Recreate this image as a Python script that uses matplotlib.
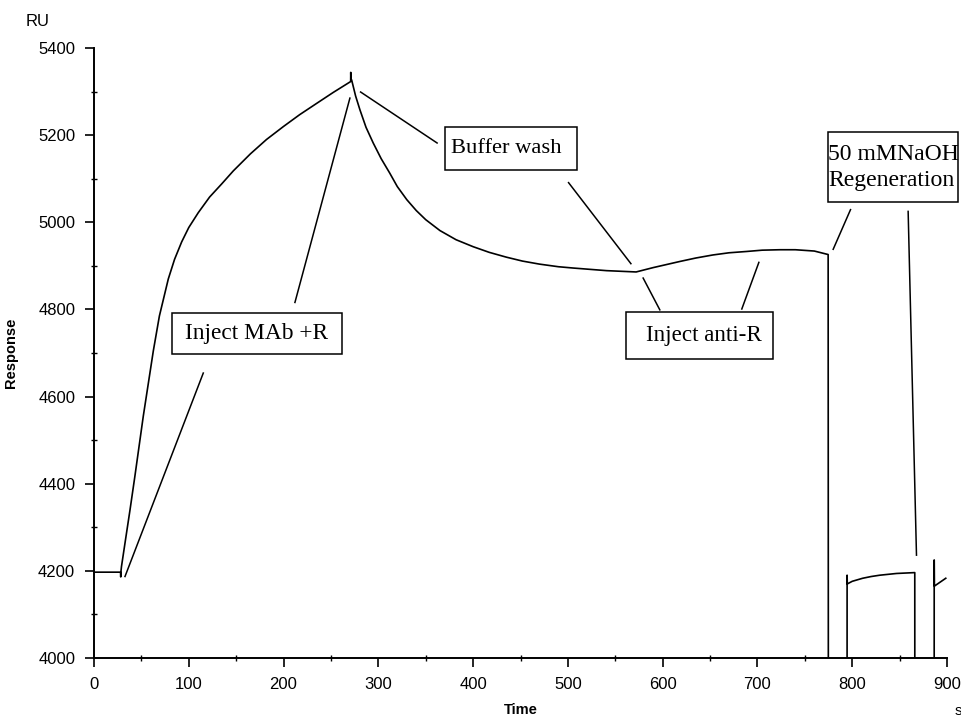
import matplotlib
matplotlib.use("Agg")
import matplotlib.pyplot as plt
from matplotlib.patches import Rectangle
from matplotlib.ticker import MultipleLocator

# Sensorgram: time (s) and response (RU); values below 4000 are off-scale (regeneration)
time_s = [0, 28, 28.2, 28.5, 29, 33, 38, 43, 52, 62.6, 69, 78.4, 85, 92.5, 100,
          110, 122, 134.7, 147, 165, 182, 200, 217, 235, 252.4, 270.8, 270.9,
          271.1, 271.8, 276, 280.6, 287, 294.6, 303, 312, 320, 330, 340, 350,
          365, 382, 400, 417, 435, 452, 470, 490, 505.6, 540.8, 572, 590, 618,
          635, 653, 670, 688.5, 705, 723.6, 740, 760, 774.6, 775, 794.5, 794.6,
          794.8, 800, 811, 820, 829, 846.7, 866, 866.2, 886.4, 886.5, 886.7,
          898.7]
response_ru = [4197, 4197, 4186, 4200, 4210, 4268, 4340, 4415, 4555, 4705, 4785,
               4870, 4915, 4955, 4988, 5022, 5058, 5088, 5118, 5157, 5190, 5220,
               5247, 5273, 5298, 5323, 5344, 5327, 5327, 5290, 5258, 5218, 5182,
               5146, 5113, 5082, 5052, 5027, 5006, 4981, 4960, 4944, 4931, 4920,
               4911, 4904, 4898, 4895, 4889, 4886, 4896, 4910, 4918, 4925, 4930,
               4933, 4936, 4937, 4937, 4934, 4926, 3000, 3000, 4190, 4170, 4176,
               4183, 4187, 4190, 4194, 4196, 3000, 3000, 4225, 4165, 4183]

x_ticks = [0, 100, 200, 300, 400, 500, 600, 700, 800, 900]
y_ticks = [4000, 4200, 4400, 4600, 4800, 5000, 5200, 5400]

# Annotation boxes: label, (x0, x1, y0, y1) in data units, text x, alignment, size
annotations = [
    ("Inject MAb +R", (82.3, 261.6, 4698, 4792), 172.0, "center", 16.8),
    ("Buffer wash", (370.3, 509.8, 5119, 5218), 435.0, "center", 16.2),
    ("Inject anti-R", (560.9, 716.0, 4687, 4793), 643.0, "center", 16.6),
    ("50 mMNaOH\nRegeneration", (774.0, 912.0, 5046, 5207), 774.8, "left", 17.1),
]

# Leader lines from the boxes to the curve, in data units
leaders = [
    ((32.7, 115.3), (4187, 4654)),
    ((212.0, 270.0), (4816, 5285)),
    ((281.3, 362.0), (5299, 5182)),
    ((500.7, 566.5), (5091, 4905)),
    ((579.4, 597.0), (4872, 4799)),
    ((701.5, 683.5), (4908, 4801)),
    ((798.2, 779.9), (5029, 4938)),
    ((859.0, 867.8), (5025, 4236)),
]

plt.rcParams["font.family"] = ["Liberation Sans", "DejaVu Sans"]

fig = plt.figure(figsize=(9.61, 7.17), dpi=100)
ax = fig.add_axes([94 / 961, 1 - 658 / 717, (947 - 94) / 961, (658 - 48) / 717])

ax.plot(time_s, response_ru, color="black", lw=1.2)

for xs, ys in leaders:
    ax.plot(xs, ys, color="black", lw=1.1, clip_on=False)

for label, (x0, x1, y0, y1), tx, ha, size in annotations:
    ax.add_patch(Rectangle((x0, y0), x1 - x0, y1 - y0, fill=False,
                           edgecolor="black", lw=1.1, clip_on=False))
    ax.text(tx, (y0 + y1) / 2, label, ha=ha, va="center",
            family=["Liberation Serif", "DejaVu Serif"], fontsize=size,
            linespacing=1.3, clip_on=False)

ax.set_xlim(0, 900)
ax.set_ylim(4000, 5400)
ax.set_xticks(x_ticks)
ax.set_yticks(y_ticks)
ax.xaxis.set_minor_locator(MultipleLocator(50))
ax.yaxis.set_minor_locator(MultipleLocator(100))

for side in ("top", "right"):
    ax.spines[side].set_visible(False)
for side in ("left", "bottom"):
    ax.spines[side].set_linewidth(1.4)

ax.tick_params(axis="both", which="major", direction="out", length=6.5,
               width=1.2, labelsize=12, pad=7)
ax.tick_params(axis="both", which="minor", direction="inout", length=4,
               width=1.0)

ax.set_ylabel("Response", fontsize=10.5, fontweight="bold")
ax.yaxis.set_label_coords((18 - 94) / 853, 0.5)
ax.set_xlabel("Time", fontsize=10.5, fontweight="bold", labelpad=8)

fig.text(38 / 961, 1 - 21 / 717, "RU", fontsize=12, ha="center", va="center")
fig.text(958 / 961, 1 - 711 / 717, "s", fontsize=11, ha="center", va="center")

fig.savefig("out.png", dpi=100)
